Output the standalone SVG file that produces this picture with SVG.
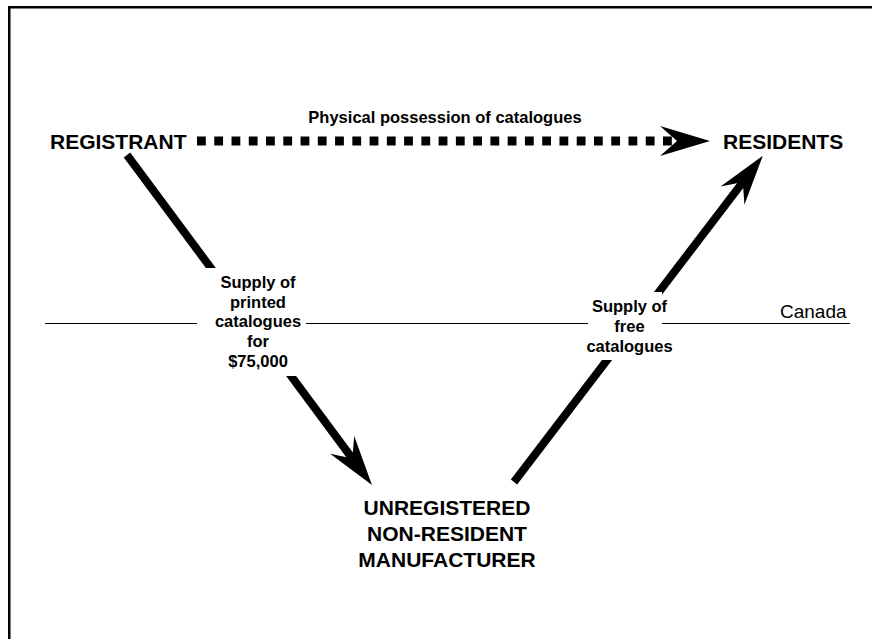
<svg xmlns="http://www.w3.org/2000/svg" width="872" height="639" viewBox="0 0 872 639">
  <style>
    .node { font-family: "Liberation Sans", Arial, sans-serif; font-weight: bold; font-size: 21px; fill: #000; }
    .lbl { font-family: "Liberation Sans", Arial, sans-serif; font-weight: bold; font-size: 16.5px; fill: #000; text-anchor: middle; }
    .reg { font-family: "Liberation Sans", Arial, sans-serif; font-size: 19px; fill: #000; }
    .flow { stroke: #000; stroke-width: 8; fill: none; stroke-linecap: butt; marker-end: url(#head); }
    .dotted { stroke: #000; stroke-width: 9; fill: none; stroke-dasharray: 8.8 8.46; marker-end: url(#head); }
    .mask { fill: #fff; stroke: none; }
  </style>
  <defs>
    <marker id="head" markerUnits="userSpaceOnUse" viewBox="-20 -20 60 40" markerWidth="60" markerHeight="40" refX="0" refY="0" orient="auto" overflow="visible">
      <path d="M33,0 L-17,-15 L0,0 L-17,15 Z" fill="#000"/>
    </marker>
  </defs>
  <rect x="0" y="0" width="872" height="639" fill="#fff"/>
  <path d="M9.25,639 V7.25 H872" fill="none" stroke="#000" stroke-width="2.5"/>

  <g id="canada-border">
    <line x1="45" y1="323.5" x2="850" y2="323.5" stroke="#000" stroke-width="1"/>
    <text class="reg" x="780" y="318">Canada</text>
  </g>

  <g id="connectors">
    <line class="dotted" x1="197" y1="141" x2="677" y2="141"/>
    <line class="flow" x1="127" y1="155" x2="352.3" y2="458.5"/>
    <line class="flow" x1="514" y1="482" x2="742.8" y2="182.1"/>
  </g>

  <g id="label-possession">
    <text class="lbl" x="445" y="123">Physical possession of catalogues</text>
  </g>
  <g id="label-printed">
    <rect class="mask" x="197" y="268" width="109" height="108"/>
    <text class="lbl" x="258" y="288">Supply of</text>
    <text class="lbl" x="258" y="308">printed</text>
    <text class="lbl" x="258" y="327">catalogues</text>
    <text class="lbl" x="258" y="347">for</text>
    <text class="lbl" x="258" y="367">$75,000</text>
  </g>
  <g id="label-free">
    <rect class="mask" x="588" y="292" width="74" height="68"/>
    <text class="lbl" x="629.5" y="312">Supply of</text>
    <text class="lbl" x="629.5" y="332">free</text>
    <text class="lbl" x="629.5" y="352">catalogues</text>
  </g>

  <g id="registrant">
    <text class="node" x="50" y="148.5">REGISTRANT</text>
  </g>
  <g id="residents">
    <text class="node" x="723" y="148.5">RESIDENTS</text>
  </g>
  <g id="manufacturer">
    <text class="node" x="447" y="515" text-anchor="middle">UNREGISTERED</text>
    <text class="node" x="447" y="541" text-anchor="middle">NON-RESIDENT</text>
    <text class="node" x="447" y="567" text-anchor="middle">MANUFACTURER</text>
  </g>
</svg>
